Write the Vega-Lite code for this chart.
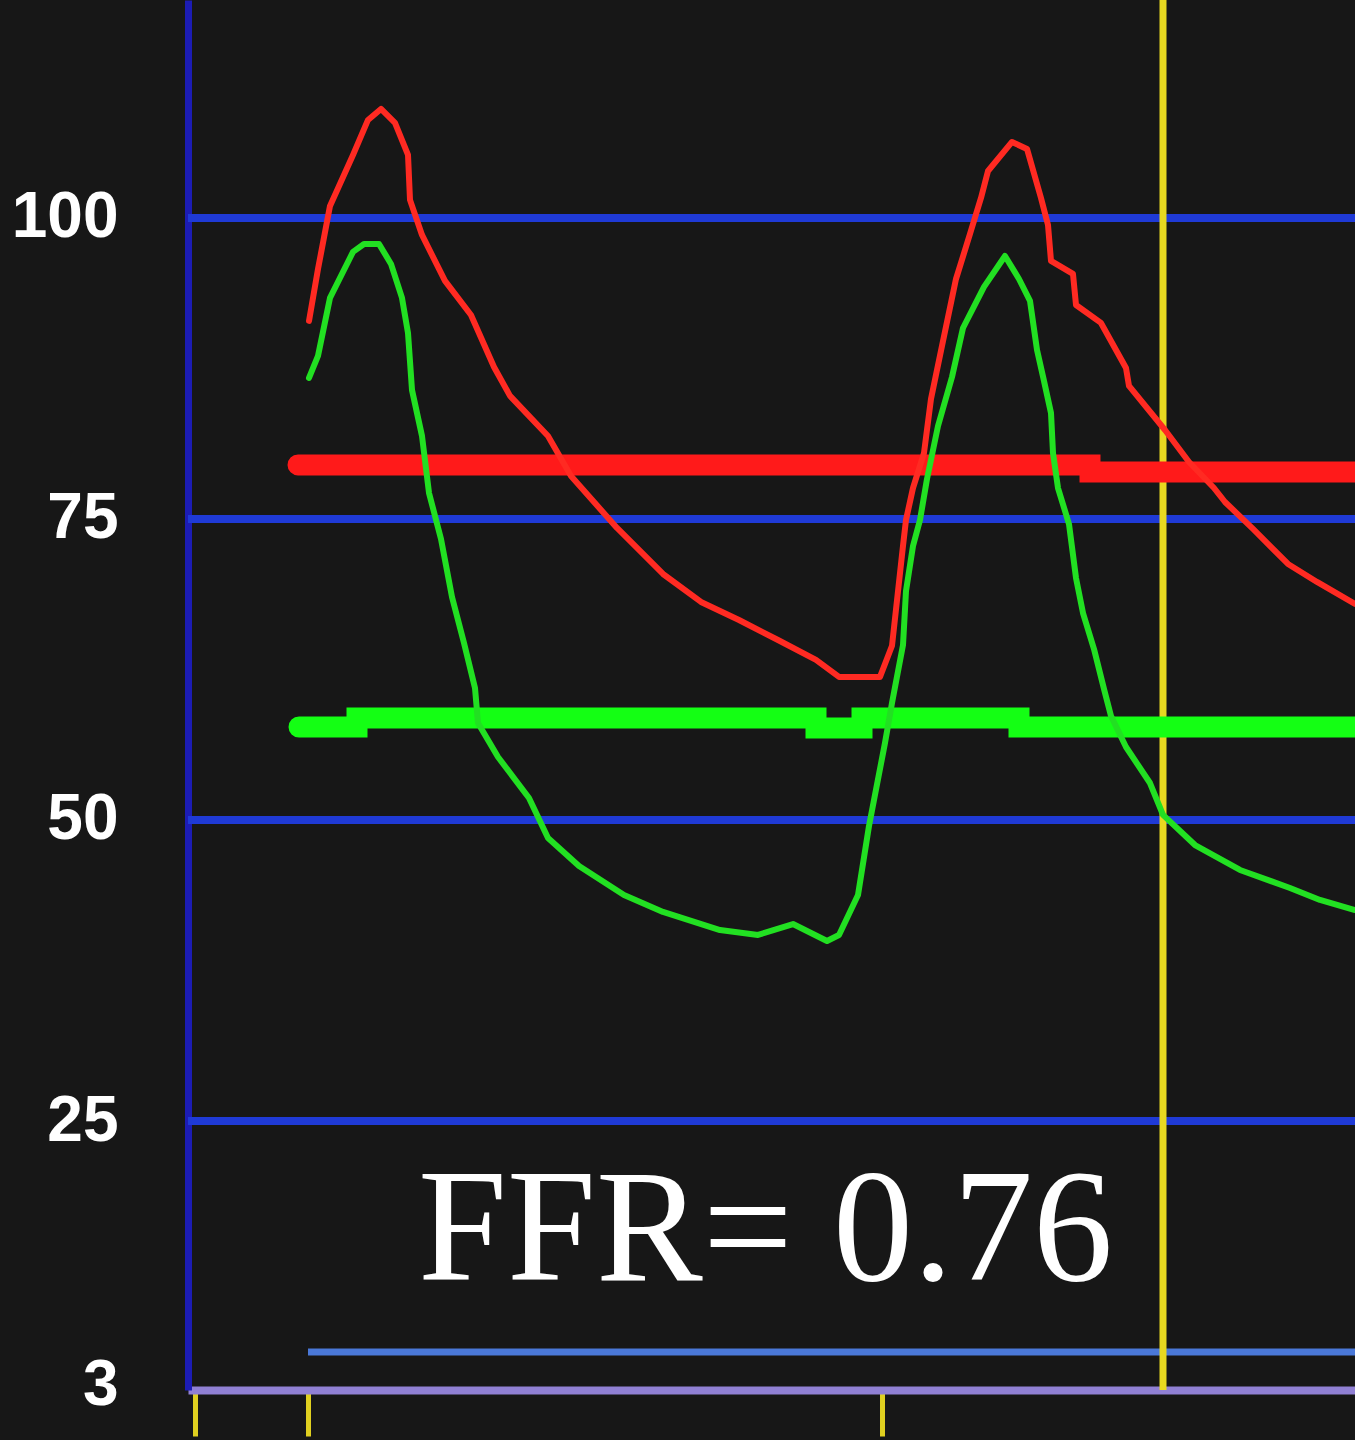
{
  "$schema": "https://vega.github.io/schema/vega-lite/v6.json",
  "width": 1167,
  "height": 1390,
  "autosize": {"type": "none"},
  "padding": {"left": 188, "top": 0, "right": 0, "bottom": 50},
  "background": "#171717",
  "config": {"view": {"stroke": null}},
  "datasets": {
    "curves": [
      {"t":309,"v":91.45,"s":"Pa"},{"t":318,"v":95.76,"s":"Pa"},{"t":330,"v":101.0,"s":"Pa"},{"t":353,"v":105.23,"s":"Pa"},{"t":368,"v":108.14,"s":"Pa"},{"t":381,"v":109.05,"s":"Pa"},{"t":395,"v":107.89,"s":"Pa"},{"t":408,"v":105.23,"s":"Pa"},{"t":410,"v":101.5,"s":"Pa"},{"t":422,"v":98.59,"s":"Pa"},{"t":445,"v":94.77,"s":"Pa"},{"t":471,"v":91.94,"s":"Pa"},{"t":494,"v":87.62,"s":"Pa"},{"t":510,"v":85.22,"s":"Pa"},{"t":548,"v":81.89,"s":"Pa"},{"t":571,"v":78.57,"s":"Pa"},{"t":617,"v":74.25,"s":"Pa"},{"t":663,"v":70.43,"s":"Pa"},{"t":701,"v":68.11,"s":"Pa"},{"t":739,"v":66.61,"s":"Pa"},{"t":778,"v":64.95,"s":"Pa"},{"t":816,"v":63.29,"s":"Pa"},{"t":839,"v":61.88,"s":"Pa"},{"t":880,"v":61.88,"s":"Pa"},{"t":892,"v":64.47,"s":"Pa"},{"t":903,"v":72.76,"s":"Pa"},{"t":906,"v":74.92,"s":"Pa"},{"t":913,"v":77.57,"s":"Pa"},{"t":924,"v":80.48,"s":"Pa"},{"t":931,"v":84.97,"s":"Pa"},{"t":942,"v":89.37,"s":"Pa"},{"t":956,"v":94.93,"s":"Pa"},{"t":970,"v":98.67,"s":"Pa"},{"t":981,"v":101.66,"s":"Pa"},{"t":988,"v":103.9,"s":"Pa"},{"t":1012,"v":106.31,"s":"Pa"},{"t":1027,"v":105.73,"s":"Pa"},{"t":1041,"v":101.66,"s":"Pa"},{"t":1048,"v":99.42,"s":"Pa"},{"t":1051,"v":96.43,"s":"Pa"},{"t":1073,"v":95.35,"s":"Pa"},{"t":1076,"v":92.77,"s":"Pa"},{"t":1101,"v":91.28,"s":"Pa"},{"t":1126,"v":87.54,"s":"Pa"},{"t":1129,"v":86.05,"s":"Pa"},{"t":1165,"v":82.39,"s":"Pa"},{"t":1189,"v":79.73,"s":"Pa"},{"t":1214,"v":77.57,"s":"Pa"},{"t":1225,"v":76.41,"s":"Pa"},{"t":1253,"v":74.17,"s":"Pa"},{"t":1288,"v":71.26,"s":"Pa"},{"t":1317,"v":69.77,"s":"Pa"},{"t":1355,"v":67.94,"s":"Pa"},
      {"t":309,"v":86.71,"s":"Pd"},{"t":318,"v":88.54,"s":"Pd"},{"t":330,"v":93.36,"s":"Pd"},{"t":353,"v":97.18,"s":"Pd"},{"t":364,"v":97.84,"s":"Pd"},{"t":379,"v":97.84,"s":"Pd"},{"t":391,"v":96.18,"s":"Pd"},{"t":402,"v":93.36,"s":"Pd"},{"t":408,"v":90.45,"s":"Pd"},{"t":412,"v":85.71,"s":"Pd"},{"t":422,"v":81.89,"s":"Pd"},{"t":429,"v":77.16,"s":"Pd"},{"t":441,"v":73.34,"s":"Pd"},{"t":452,"v":68.52,"s":"Pd"},{"t":464,"v":64.7,"s":"Pd"},{"t":475,"v":60.96,"s":"Pd"},{"t":478,"v":58.06,"s":"Pd"},{"t":498,"v":55.23,"s":"Pd"},{"t":529,"v":51.83,"s":"Pd"},{"t":548,"v":48.5,"s":"Pd"},{"t":579,"v":46.18,"s":"Pd"},{"t":624,"v":43.77,"s":"Pd"},{"t":663,"v":42.36,"s":"Pd"},{"t":720,"v":40.86,"s":"Pd"},{"t":758,"v":40.45,"s":"Pd"},{"t":793,"v":41.36,"s":"Pd"},{"t":827,"v":39.95,"s":"Pd"},{"t":839,"v":40.45,"s":"Pd"},{"t":858,"v":43.77,"s":"Pd"},{"t":869,"v":49.5,"s":"Pd"},{"t":874,"v":51.66,"s":"Pd"},{"t":885,"v":56.4,"s":"Pd"},{"t":892,"v":59.72,"s":"Pd"},{"t":903,"v":64.53,"s":"Pd"},{"t":906,"v":69.02,"s":"Pd"},{"t":913,"v":72.76,"s":"Pd"},{"t":920,"v":74.92,"s":"Pd"},{"t":927,"v":78.32,"s":"Pd"},{"t":938,"v":82.72,"s":"Pd"},{"t":952,"v":86.79,"s":"Pd"},{"t":963,"v":90.86,"s":"Pd"},{"t":984,"v":94.27,"s":"Pd"},{"t":1005,"v":96.84,"s":"Pd"},{"t":1019,"v":94.93,"s":"Pd"},{"t":1030,"v":93.11,"s":"Pd"},{"t":1037,"v":89.04,"s":"Pd"},{"t":1044,"v":86.46,"s":"Pd"},{"t":1051,"v":83.8,"s":"Pd"},{"t":1053,"v":80.48,"s":"Pd"},{"t":1058,"v":77.57,"s":"Pd"},{"t":1069,"v":74.58,"s":"Pd"},{"t":1076,"v":70.1,"s":"Pd"},{"t":1083,"v":67.19,"s":"Pd"},{"t":1094,"v":64.2,"s":"Pd"},{"t":1104,"v":60.88,"s":"Pd"},{"t":1111,"v":58.64,"s":"Pd"},{"t":1126,"v":56.06,"s":"Pd"},{"t":1150,"v":53.07,"s":"Pd"},{"t":1163,"v":50.42,"s":"Pd"},{"t":1195,"v":47.92,"s":"Pd"},{"t":1240,"v":45.85,"s":"Pd"},{"t":1290,"v":44.35,"s":"Pd"},{"t":1320,"v":43.36,"s":"Pd"},{"t":1355,"v":42.52,"s":"Pd"}
    ],
    "means": [
      {"t":298,"v":79.49,"s":"PaMean"},{"t":1090,"v":78.9,"s":"PaMean"},{"t":1355,"v":78.9,"s":"PaMean"},
      {"t":299,"v":57.72,"s":"PdMean"},{"t":357,"v":58.47,"s":"PdMean"},{"t":816,"v":57.64,"s":"PdMean"},{"t":862,"v":58.47,"s":"PdMean"},{"t":1019,"v":57.72,"s":"PdMean"},{"t":1355,"v":57.72,"s":"PdMean"}
    ]
  },
  "layer": [
    {
      "data": {"values": [{"v":25},{"v":50},{"v":75},{"v":100}]},
      "mark": {"type": "rule", "color": "#1f3ad6", "strokeWidth": 8},
      "encoding": {
        "y": {"field": "v", "type": "quantitative", "scale": {"domain": [2.66, 118.1], "nice": false, "zero": false},
          "axis": {"values": [3, 25, 50, 75, 100], "title": null, "grid": false, "ticks": false,
            "domain": true, "domainColor": "#1c1cb4", "domainWidth": 7,
            "labelColor": "#ffffff", "labelFont": "Liberation Sans", "labelFontWeight": "bold", "labelFontSize": 64,
            "labelPadding": 70, "labelAlign": "right", "labelBaseline": "middle"}}
      }
    },
    {
      "data": {"values": [{"t":308,"t2":1355,"v":5.81}]},
      "mark": {"type": "rule", "color": "#4a78d8", "strokeWidth": 7},
      "encoding": {
        "x": {"field": "t", "type": "quantitative", "scale": {"domain": [188, 1355], "nice": false, "zero": false},
          "axis": {"orient": "bottom", "values": [195, 308, 882], "labels": false, "title": null, "grid": false,
            "domain": true, "domainColor": "#9080d4", "domainWidth": 8,
            "ticks": true, "tickColor": "#e0d020", "tickWidth": 5, "tickSize": 46}},
        "x2": {"field": "t2"},
        "y": {"field": "v", "type": "quantitative"}
      }
    },
    {
      "data": {"values": [{"t":1163}]},
      "mark": {"type": "rule", "color": "#e8d820", "strokeWidth": 7},
      "encoding": {
        "x": {"field": "t", "type": "quantitative"}
      }
    },
    {
      "data": {"name": "means"},
      "mark": {"type": "line", "interpolate": "step-after", "strokeWidth": 21, "strokeCap": "round"},
      "encoding": {
        "x": {"field": "t", "type": "quantitative"},
        "y": {"field": "v", "type": "quantitative"},
        "color": {"field": "s", "type": "nominal", "scale": {"domain": ["Pa","Pd","PaMean","PdMean"], "range": ["#ff2a22","#22e022","#ff1a1a","#14ff14"]}, "legend": null}
      }
    },
    {
      "data": {"name": "curves"},
      "mark": {"type": "line", "strokeWidth": 6, "strokeCap": "round", "strokeJoin": "round"},
      "encoding": {
        "x": {"field": "t", "type": "quantitative"},
        "y": {"field": "v", "type": "quantitative"},
        "color": {"field": "s", "type": "nominal", "legend": null}
      }
    },
    {
      "data": {"values": [{"t":418,"v":11.8,"label":"FFR= 0.76"}]},
      "mark": {"type": "text", "align": "left", "baseline": "alphabetic", "font": "Liberation Serif", "fontSize": 160, "color": "#ffffff"},
      "encoding": {
        "x": {"field": "t", "type": "quantitative"},
        "y": {"field": "v", "type": "quantitative"},
        "text": {"field": "label"}
      }
    }
  ]
}
